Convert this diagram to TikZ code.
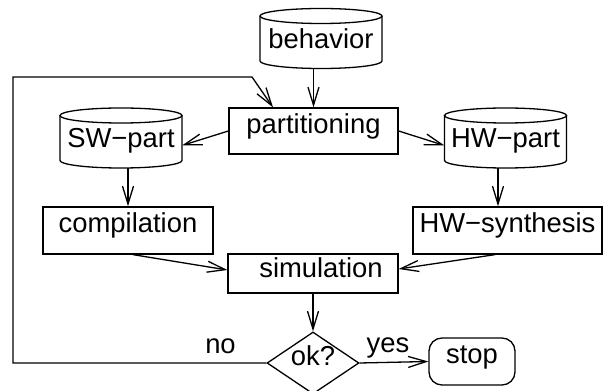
\documentclass[tikz,border=0pt]{standalone}
\usepackage{fontspec}
\setmainfont{Liberation Sans}
\usetikzlibrary{arrows.meta,shapes.geometric,calc}
\newcommand\cylframe[1]{%
  \draw[line width=1.3pt] ([yshift=7.5pt]#1.north) ellipse[x radius=61pt,y radius=7.5pt];
  \draw[line width=1.3pt] ([yshift=7.5pt]#1.north west) -- ([yshift=7.5pt]#1.south west)
    arc[start angle=180,end angle=360,x radius=61pt,y radius=7.5pt] -- ([yshift=7.5pt]#1.north east);
}
\begin{document}
\begin{tikzpicture}[x=1pt,y=1pt,
  every node/.style={font=\fontsize{27.4}{30}\selectfont, inner sep=0pt, text height=0.75em, text depth=0.25em},
  boxnode/.style={draw, line width=1.3pt, rectangle, minimum height=46pt},
  cylnode/.style={rectangle, minimum width=122pt, minimum height=45pt, outer sep=0pt},
  arr/.style={line width=1.3pt, -{Straight Barb[length=18pt,width=11pt,line width=1.3pt]}},
  plain/.style={line width=1.3pt}]
\useasboundingbox (0,0) rectangle (603,391);
% nodes
\node[cylnode] (beh) at (321,345) {behavior};
\node[boxnode, minimum width=169pt] (part) at (313.5,260) {partitioning};
\node[cylnode] (sw) at (121,245.5) {SW−part};
\node[cylnode] (hw) at (505.5,245.5) {HW−part};
\node[boxnode, minimum width=170pt, minimum height=47pt] (comp) at (128,160.5) {compilation};
\node[boxnode, minimum width=189pt, minimum height=47pt] (hws) at (507.5,160.5) {HW−synthesis};
\node[boxnode, minimum width=170pt, minimum height=39pt, text depth=0pt] (sim) at (313,117.5) {\hspace*{16pt}simulation};
\node[diamond, draw, line width=1.3pt, minimum width=92pt, minimum height=62pt, aspect=1.48] (ok) at (313,28) {ok?};
\node[draw, line width=1.3pt, rounded corners=13pt, minimum width=86pt, minimum height=47pt] (stop) at (472,29.5) {stop};
\node[anchor=base] (yes) at (388,38) {yes};
\node[anchor=base] (no) at (220.5,37) {no};
\cylframe{beh}
\cylframe{sw}
\cylframe{hw}
% connectors
\draw[arr] (beh.south -| part.north) -- (part.north);
\draw[arr] (part.west) -- (sw.east);
\draw[arr] (part.east) -- (hw.west);
\draw[arr] (sw.south -| comp.north) -- (comp.north);
\draw[arr] ([xshift=-7.5pt]hw.south) -- ([xshift=-7.5pt]hw.south |- hws.north);
\draw[arr] ([xshift=5pt]comp.south) -- ([yshift=3.5pt]sim.west);
\draw[arr] ([xshift=-12.5pt]hws.south) -- ([yshift=4.5pt]sim.east);
\draw[arr] (sim.south) -- (ok.north);
\draw[arr] (ok.east) -- (stop.west);
\coordinate (c1) at (13,28);
\coordinate (c2) at (13,314);
\coordinate (c3) at (252,314);
\draw[arr] (ok.west) -- (c1) -- (c2) -- (c3) -- ([xshift=-40.5pt]part.north);
\end{tikzpicture}
\end{document}
